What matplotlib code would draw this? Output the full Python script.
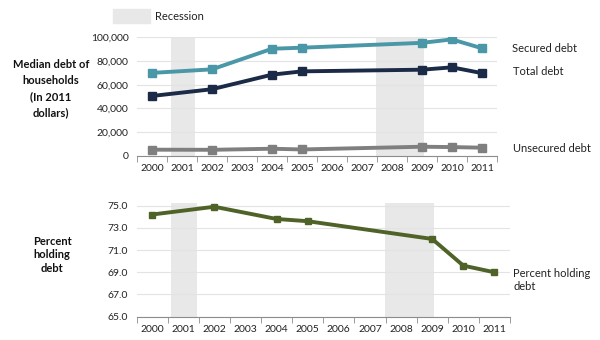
import matplotlib
matplotlib.use("Agg")
import matplotlib.pyplot as plt
from matplotlib.patches import Rectangle

plt.rcParams['font.family'] = ['Lato', 'DejaVu Sans']

years = ["2000", "2001", "2002", "2003", "2004", "2005", "2006",
         "2007", "2008", "2009", "2010", "2011"]
survey_years = ["2000", "2002", "2004", "2005", "2009", "2010", "2011"]
secured = [70000, 73000, 90400, 91300, 95400, 98300, 90800]
total = [50500, 56200, 68500, 71300, 72700, 74700, 69800]
unsecured = [5100, 5000, 5900, 5300, 7600, 7300, 6800]
pct_holding = [74.2, 74.9, 73.8, 73.6, 72.0, 69.6, 69.0]
recessions = [(0.62, 1.45), (7.47, 9.07)]

fig = plt.figure(figsize=(6, 3.4), dpi=100)
ax1 = fig.add_axes([0.2283, 0.542, 0.6, 0.348])
ax2 = fig.add_axes([0.2275, 0.0685, 0.6225, 0.3345])

xpos = [years.index(y) for y in survey_years]
band_color = '#e8e8e8'
grid_color = '#e3e3e3'

def style(ax):
    ax.set_xlim(-0.5, 11.5)
    for s in ['left', 'right', 'top']:
        ax.spines[s].set_visible(False)
    ax.spines['bottom'].set_color('#8c8c8c')
    ax.set_xticks(range(12))
    ax.set_xticklabels(years, fontsize=7.5, color='#222222')
    ax.tick_params(axis='x', length=0, pad=6)
    ax.set_xticks([i - 0.5 for i in range(13)], minor=True)
    ax.tick_params(axis='x', which='minor', length=4, color='#8c8c8c', direction='out')
    ax.tick_params(axis='y', length=0, labelsize=7.5, labelcolor='#222222', pad=6)
    ax.grid(axis='y', color=grid_color, linewidth=0.8)
    ax.set_axisbelow(True)

# Top chart
for a, b in recessions:
    ax1.axvspan(a, b, color=band_color, zorder=0.5, linewidth=0)
ax1.plot(xpos, secured, color='#4a97a7', lw=2.8, marker='s', ms=5.5, zorder=3)
ax1.plot(xpos, total, color='#1b2a47', lw=2.8, marker='s', ms=5.5, zorder=3)
ax1.plot(xpos, unsecured, color='#7f7f7f', lw=2.8, marker='s', ms=5.5, zorder=3)
ax1.set_ylim(0, 100000)
ax1.set_yticks(range(0, 100001, 20000))
ax1.set_yticklabels([f"{v:,}" for v in range(0, 100001, 20000)])
style(ax1)
ax1.text(12.0, 91000, "Secured debt", fontsize=8, va='center', ha='left', color='#222222')
ax1.text(12.05, 71500, "Total debt", fontsize=8, va='center', ha='left', color='#222222')
ax1.text(12.05, 6500, "Unsecured debt", fontsize=8, va='center', ha='left', color='#222222')

# Bottom chart
for a, b in recessions:
    ax2.axvspan(a, b, color=band_color, zorder=0.5, linewidth=0)
ax2.plot(xpos, pct_holding, color='#4f6228', lw=2.8, marker='s', ms=5, zorder=3)
ax2.set_ylim(65, 75.24)
ax2.set_yticks([65, 67, 69, 71, 73, 75])
ax2.set_yticklabels([f"{v:.1f}" for v in [65, 67, 69, 71, 73, 75]])
style(ax2)
ax2.text(11.6, 68.3, "Percent holding\ndebt", fontsize=8, va='center', ha='left',
         color='#222222', linespacing=1.2)

# Left labels
fig.text(0.085, 0.74, "Median debt of\nhouseholds\n(In 2011\ndollars)", fontsize=8,
         fontweight='bold', ha='center', va='center', linespacing=1.55, color='#111111')
fig.text(0.087, 0.25, "Percent\nholding\ndebt", fontsize=8,
         fontweight='bold', ha='center', va='center', linespacing=1.3, color='#111111')

# Legend
fig.patches.append(Rectangle((113/600, 1 - 23.3/340), 37/600, 14/340,
                             transform=fig.transFigure, color=band_color, figure=fig))
fig.text(155/600, 1 - 16.5/340, "Recession", fontsize=8, va='center', ha='left', color='#222222')

fig.savefig("out.png", dpi=100)
